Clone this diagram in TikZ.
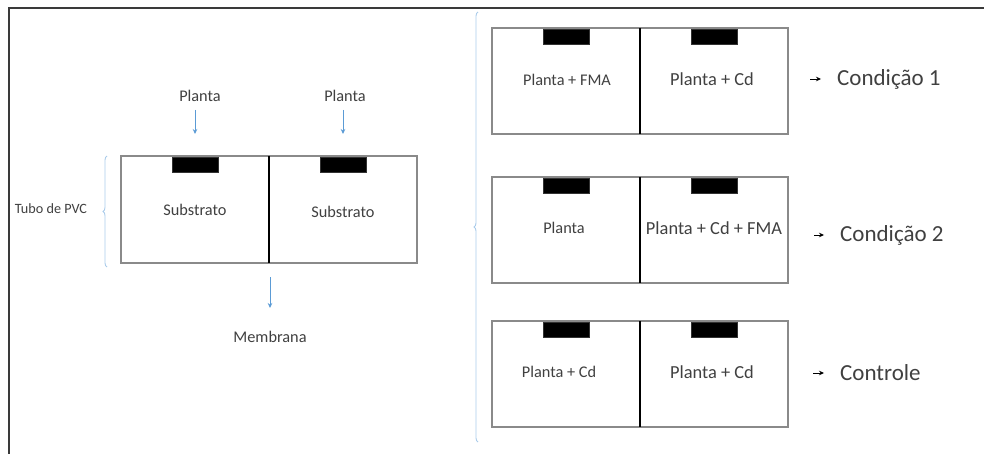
\documentclass[tikz,border=0pt]{standalone}
\usepackage{fontspec}
\setmainfont{Carlito}
\usetikzlibrary{arrows.meta,decorations.pathreplacing}
\definecolor{txt}{HTML}{404040}
\definecolor{cellgray}{HTML}{8A8A8A}
\definecolor{framegray}{HTML}{3A3A3A}
\definecolor{arrblue}{HTML}{5B9BD5}
\definecolor{braceblue}{HTML}{A9CBEA}
\begin{document}
\begin{tikzpicture}[x=1pt,y=-1pt,
  cell/.style={draw=cellgray,line width=1.4pt,minimum width=148pt,minimum height=107pt,inner sep=0pt,outer sep=0pt,anchor=north west},
  tab/.style={fill=black,draw=black!80,line width=0.6pt,minimum width=46pt,minimum height=15pt,inner sep=0pt,outer sep=0pt,anchor=north},
  divider/.style={draw=black,line width=2.6pt},
  lbl/.style={text=txt,font=\fontsize{16.3}{18}\selectfont,inner sep=0pt},
  lblbig/.style={text=txt,font=\fontsize{18.4}{20}\selectfont,inner sep=0pt},
  cond/.style={text=txt,font=\fontsize{23}{26}\selectfont,inner sep=0pt,anchor=west},
  bluearrow/.style={draw=arrblue,line width=0.8pt,-{Stealth[length=5pt,width=4.5pt]}},
  blackarrow/.style={draw=black,line width=0.8pt,-{Stealth[length=5pt,width=4.5pt]}},
  bracestyle/.style={draw=braceblue,line width=0.9pt,decorate,decoration={brace,amplitude=4pt}}
]
\useasboundingbox (0,0) rectangle (984,454);
% frame
\draw[framegray,line width=2.4pt] (9,456) -- (9,8) -- (986,8);

% ---- left group ----
\node[cell] (L1) at (121,156) {};
\node[cell] (L2) at (269,156) {};
\draw[divider] (L1.north east) -- (L1.south east);
\node[tab] (tL1) at ([yshift=-1pt]L1.north) {};
\node[tab] (tL2) at ([yshift=-1pt]L2.north) {};
\node[lbl] (sL1) at (195,210) {Substrato};
\node[lbl] (sL2) at (343,212) {Substrato};

\node[lbl] (p1) at (200,96) {Planta};
\node[lbl] (p2) at (345,96) {Planta};
\coordinate (p1s) at (195,110);
\coordinate (p1e) at (195,134);
\coordinate (p2s) at (343,110);
\coordinate (p2e) at (343,134);
\draw[bluearrow] (p1s) -- (p1e);
\draw[bluearrow] (p2s) -- (p2e);

\coordinate (ms) at (270,277);
\coordinate (me) at (270,308);
\draw[bluearrow] (ms) -- (me);
\node[lbl] (memb) at (270,337) {Membrana};

\node[text=txt,font=\fontsize{14.2}{16}\selectfont,inner sep=0pt] (tubo) at (51,209) {Tubo de PVC};
\coordinate (bLa) at (107,267);
\coordinate (bLb) at (107,156);
\draw[bracestyle] (bLa) -- (bLb);

% ---- right brace ----
\coordinate (bRa) at (478,442);
\coordinate (bRb) at (478,12);
\draw[bracestyle] (bRa) -- (bRb);

% ---- right group 1 ----
\node[cell,minimum height=106pt] (A1) at (492,28) {};
\node[cell,minimum height=106pt] (A2) at (640,28) {};
\draw[divider] (A1.north east) -- (A1.south east);
\node[tab] (tA1) at ([yshift=-1pt]A1.north) {};
\node[tab] (tA2) at ([yshift=-1pt]A2.north) {};
\node[lbl] (xA1) at (567,80) {Planta + FMA};
\node[lblbig] (xA2) at (712,79) {Planta + Cd};

% ---- right group 2 ----
\node[cell,minimum height=106pt] (B1) at (492,177) {};
\node[cell,minimum height=106pt] (B2) at (640,177) {};
\draw[divider] (B1.north east) -- (B1.south east);
\node[tab] (tB1) at ([yshift=-1pt]B1.north) {};
\node[tab] (tB2) at ([yshift=-1pt]B2.north) {};
\node[lbl] (xB1) at (564,228) {Planta};
\node[lblbig] (xB2) at (714,228) {Planta + Cd + FMA};

% ---- right group 3 ----
\node[cell,minimum height=106pt] (C1) at (492,321) {};
\node[cell,minimum height=106pt] (C2) at (640,321) {};
\draw[divider] (C1.north east) -- (C1.south east);
\node[tab] (tC1) at ([yshift=-1pt]C1.north) {};
\node[tab] (tC2) at ([yshift=-1pt]C2.north) {};
\node[lbl] (xC1) at (559,372) {Planta + Cd};
\node[lblbig] (xC2) at (712,372) {Planta + Cd};

% ---- condition labels ----
\node[cond] (k1) at (837,79) {Condição 1};
\node[cond] (k2) at (840,235) {Condição 2};
\node[cond] (k3) at (840,373) {Controle};
\coordinate (a1) at (810,79);
\coordinate (a2) at (814,235);
\coordinate (a3) at (813,373);
\draw[blackarrow] (a1) -- ([xshift=-16pt]k1.west);
\draw[blackarrow] (a2) -- ([xshift=-16pt]k2.west);
\draw[blackarrow] (a3) -- ([xshift=-16pt]k3.west);
\end{tikzpicture}
\end{document}
